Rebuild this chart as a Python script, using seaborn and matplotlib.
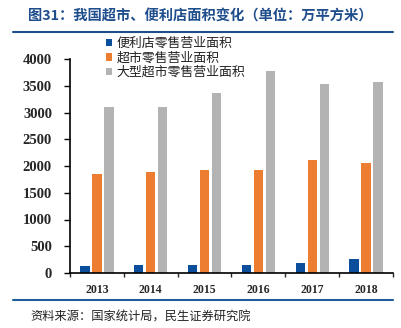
import matplotlib
matplotlib.use("Agg")
import matplotlib.pyplot as plt
import seaborn as sns
import pandas as pd
from matplotlib.lines import Line2D

years = ["2013", "2014", "2015", "2016", "2017", "2018"]
series_names = ["便利店零售营业面积", "超市零售营业面积", "大型超市零售营业面积"]
convenience = [137, 150, 150, 157, 187, 267]
supermarket = [1850, 1888, 1920, 1920, 2107, 2062]
hypermarket = [3108, 3108, 3370, 3770, 3540, 3565]
yticks = [0, 500, 1000, 1500, 2000, 2500, 3000, 3500, 4000]

title = "图31：我国超市、便利店面积变化（单位：万平方米）"
source = "资料来源：国家统计局，民生证券研究院"

colors = ["#0B4F9C", "#ED7D31", "#B3B3B3"]

rows = []
for name, vals in zip(series_names, [convenience, supermarket, hypermarket]):
    for y, v in zip(years, vals):
        rows.append({"year": y, "series": name, "value": v})
df = pd.DataFrame(rows)

sns.set_style("white")
plt.rcParams['font.family'] = ['Noto Sans CJK SC', 'DejaVu Sans']

fig = plt.figure(figsize=(4.01, 3.28), dpi=100)
ax = fig.add_axes([70/401, 1-273/328, (393-70)/401, (273-59)/328])

sns.barplot(data=df, x="year", y="value", hue="series", hue_order=series_names,
            palette=colors, width=0.667, gap=0.22, ax=ax, edgecolor="none",
            linewidth=0, errorbar=None, saturation=1)

ax.set_ylim(0, 4000)
ax.set_xlim(-0.5, 5.5)
ax.set_yticks(yticks)
ax.set_yticklabels([str(t) for t in yticks], family="Liberation Serif",
                   fontweight="bold", fontsize=10.5)
ax.set_xticks(range(len(years)))
ax.set_xticklabels(years, family="Liberation Serif", fontweight="bold", fontsize=8.5)
ax.tick_params(axis="y", length=4, width=1, pad=9, direction="out", color="black", left=True)
ax.tick_params(axis="x", length=0, pad=8)
ax.set_xticks([i - 0.5 for i in range(len(years) + 1)], minor=True)
ax.tick_params(axis="x", which="minor", length=3, width=1, direction="out", bottom=True)
ax.set_xlabel("")
ax.set_ylabel("")
for s in ["top", "right"]:
    ax.spines[s].set_visible(False)
for s in ["left", "bottom"]:
    ax.spines[s].set_color("black")
    ax.spines[s].set_linewidth(1.2)

handles, labels = ax.get_legend_handles_labels()
ax.legend(handles, labels, loc="upper left", bbox_to_anchor=(106/401, 1-37/328),
          bbox_transform=fig.transFigure, frameon=False, fontsize=9.3,
          handlelength=0.5, handleheight=0.5, handletextpad=0.3, labelspacing=0.12,
          borderpad=0, borderaxespad=0, labelcolor="#222222")

fig.text(28/401, 1-17/328, title, color="#1F4E8C", fontsize=10.3, fontweight="bold",
         va="center", ha="left")
fig.add_artist(Line2D([13/401, 393/401], [1-32/328, 1-32/328], color="#1F4E8C",
                      linewidth=1.5, transform=fig.transFigure))
fig.add_artist(Line2D([13/401, 393/401], [1-300/328, 1-300/328], color="#1F5C99",
                      linewidth=1.5, transform=fig.transFigure))
fig.text(30/401, 1-317/328, source, color="#222222", fontsize=8.8, va="center", ha="left")

fig.savefig("out.png", dpi=100)
